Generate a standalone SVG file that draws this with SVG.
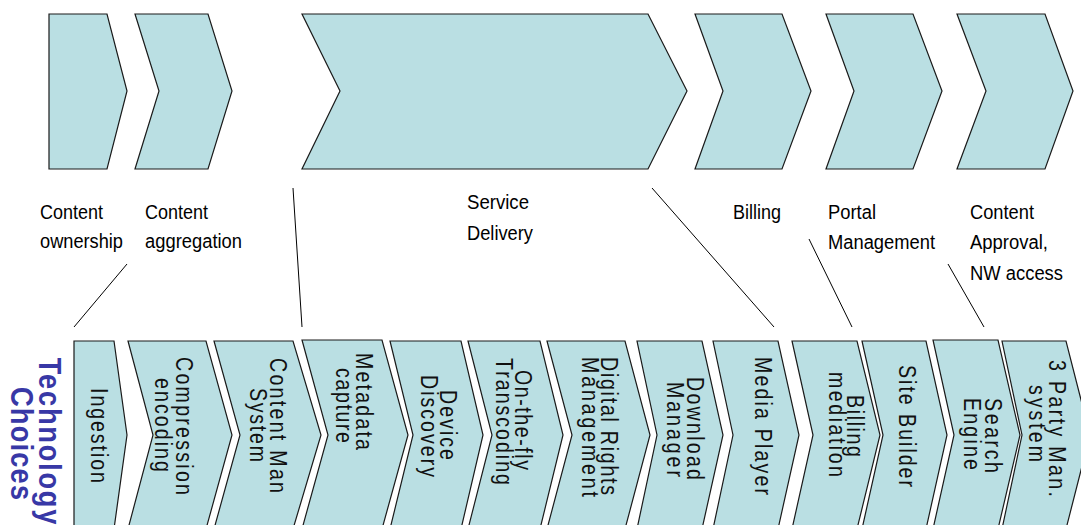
<svg xmlns="http://www.w3.org/2000/svg" width="1081" height="525" viewBox="0 0 1081 525">
<style>
.chev{fill:#badfe3;stroke:#1a1a1a;stroke-width:1.2;stroke-linejoin:miter}
.lbl{font-family:"Liberation Sans",Arial,sans-serif;font-size:20px;fill:#000}
.tech{font-family:"Liberation Sans",Arial,sans-serif;font-size:24.5px;fill:#111;text-anchor:middle}
.ttl{font-family:"Liberation Sans",Arial,sans-serif;font-size:32px;font-weight:bold;fill:#3838a6;text-anchor:middle}
.conn line{stroke:#000;stroke-width:1}
</style>
<rect width="1081" height="525" fill="#fff"/>

<!-- top value chain -->
<g id="stage-content-ownership">
<polygon class="chev" points="49,14 107,14 127,91 107,169 49,169"/>
<text class="lbl" x="40" y="219" textLength="63" lengthAdjust="spacingAndGlyphs">Content</text>
<text class="lbl" x="40" y="248" textLength="83" lengthAdjust="spacingAndGlyphs">ownership</text>
</g>
<g id="stage-content-aggregation">
<polygon class="chev" points="135,14 208,14 232,91 208,169 135,169 159,91"/>
<text class="lbl" x="145" y="219" textLength="63" lengthAdjust="spacingAndGlyphs">Content</text>
<text class="lbl" x="145" y="248" textLength="97" lengthAdjust="spacingAndGlyphs">aggregation</text>
</g>
<g id="stage-service-delivery">
<polygon class="chev" points="302,14 648,14 687,91 648,169 302,169 340,91"/>
<text class="lbl" x="467" y="209" textLength="62" lengthAdjust="spacingAndGlyphs">Service</text>
<text class="lbl" x="467" y="240" textLength="66" lengthAdjust="spacingAndGlyphs">Delivery</text>
</g>
<g id="stage-billing">
<polygon class="chev" points="695,14 782,14 811,91 782,169 695,169 723,91"/>
<text class="lbl" x="733" y="219" textLength="48" lengthAdjust="spacingAndGlyphs">Billing</text>
</g>
<g id="stage-portal-management">
<polygon class="chev" points="826,14 913,14 942,91 913,169 826,169 854,91"/>
<text class="lbl" x="828" y="219" textLength="48" lengthAdjust="spacingAndGlyphs">Portal</text>
<text class="lbl" x="828" y="249" textLength="107" lengthAdjust="spacingAndGlyphs">Management</text>
</g>
<g id="stage-content-approval">
<polygon class="chev" points="957,14 1045,14 1073,91 1045,169 957,169 986,91"/>
<text class="lbl" x="970" y="219" textLength="64" lengthAdjust="spacingAndGlyphs">Content</text>
<text class="lbl" x="970" y="249" textLength="78" lengthAdjust="spacingAndGlyphs">Approval,</text>
<text class="lbl" x="970" y="280" textLength="93" lengthAdjust="spacingAndGlyphs">NW access</text>
</g>

<!-- connectors -->
<g id="connectors" class="conn">
<line x1="74" y1="327" x2="127" y2="264"/>
<line x1="293" y1="188" x2="302" y2="327"/>
<line x1="652" y1="188" x2="774" y2="327"/>
<line x1="809" y1="239" x2="852" y2="327"/>
<line x1="948" y1="264" x2="984" y2="327"/>
</g>

<!-- title -->
<g id="technology-choices-title">
<text class="ttl" transform="translate(39,441) rotate(90) scale(0.85,1)" textLength="196" lengthAdjust="spacing">Technology</text>
<text class="ttl" transform="translate(11,443.5) rotate(90) scale(0.85,1)" textLength="133" lengthAdjust="spacing">Choices</text>
</g>

<!-- technology choices row -->
<g id="tc-ingestion">
<polygon class="chev" points="74,341 114,341 127,435 114,529 74,529"/>
<text class="tech" transform="translate(90.5,435.5) rotate(90) scale(0.8,1)" textLength="118.75" lengthAdjust="spacing">Ingestion</text>
</g>
<g id="tc-compression">
<polygon class="chev" points="128,341 206,341 232,435 206,529 128,529 153,435"/>
<text class="tech" transform="translate(175.5,426) rotate(90) scale(0.8,1)" textLength="172.5" lengthAdjust="spacing">Compression</text>
<text class="tech" transform="translate(154.5,425) rotate(90) scale(0.8,1)" textLength="117.5" lengthAdjust="spacing">encoding</text>
</g>
<g id="tc-cms">
<polygon class="chev" points="214,341 293,341 321,435 293,529 214,529 240,435"/>
<text class="tech" transform="translate(269.5,425.5) rotate(90) scale(0.8,1)" textLength="168.75" lengthAdjust="spacing">Content Man</text>
<text class="tech" transform="translate(249.5,425) rotate(90) scale(0.8,1)" textLength="92.5" lengthAdjust="spacing">System</text>
</g>
<g id="tc-metadata">
<polygon class="chev" points="302,340 382,340 408,435 382,529 302,529 328,435"/>
<text class="tech" transform="translate(355.5,401.5) rotate(90) scale(0.8,1)" textLength="121.25" lengthAdjust="spacing">Metadata</text>
<text class="tech" transform="translate(336,405.5) rotate(90) scale(0.8,1)" textLength="93.75" lengthAdjust="spacing">capture</text>
</g>
<g id="tc-device-discovery">
<polygon class="chev" points="390,341 461,341 483,435 461,529 390,529 413,435"/>
<text class="tech" transform="translate(439.5,425) rotate(90) scale(0.8,1)" textLength="87.5" lengthAdjust="spacing">Device</text>
<text class="tech" transform="translate(420.5,426) rotate(90) scale(0.8,1)" textLength="127.5" lengthAdjust="spacing">Discovery</text>
</g>
<g id="tc-transcoding">
<polygon class="chev" points="468,341 540,341 563,435 540,529 468,529 492,435"/>
<text class="tech" transform="translate(514.5,420) rotate(90) scale(0.8,1)" textLength="125" lengthAdjust="spacing">On-the-fly</text>
<text class="tech" transform="translate(495.5,421.5) rotate(90) scale(0.8,1)" textLength="158.75" lengthAdjust="spacing">Transcoding</text>
</g>
<g id="tc-drm">
<polygon class="chev" points="547,341 625,341 650,435 625,529 547,529 572,435"/>
<text class="tech" transform="translate(601,426) rotate(90) scale(0.8,1)" textLength="172.5" lengthAdjust="spacing">Digital Rights</text>
<text class="tech" transform="translate(581.5,427) rotate(90) scale(0.8,1)" textLength="175" lengthAdjust="spacing">Management</text>
</g>
<g id="tc-download-manager">
<polygon class="chev" points="637,341 702,341 723,435 702,529 637,529 657,435"/>
<text class="tech" transform="translate(687,428.5) rotate(90) scale(0.8,1)" textLength="128.75" lengthAdjust="spacing">Download</text>
<text class="tech" transform="translate(667,429.5) rotate(90) scale(0.8,1)" textLength="118.75" lengthAdjust="spacing">Manager</text>
</g>
<g id="tc-media-player">
<polygon class="chev" points="713,341 778,341 799,435 778,529 713,529 733,435"/>
<text class="tech" transform="translate(755,426) rotate(90) scale(0.8,1)" textLength="172.5" lengthAdjust="spacing">Media Player</text>
</g>
<g id="tc-billing-mediation">
<polygon class="chev" points="792,341 857,341 880,435 857,529 792,529 813,435"/>
<text class="tech" transform="translate(847,426) rotate(90) scale(0.8,1)" textLength="77.5" lengthAdjust="spacing">Billing</text>
<text class="tech" transform="translate(828.5,424.5) rotate(90) scale(0.8,1)" textLength="131.25" lengthAdjust="spacing">mediation</text>
</g>
<g id="tc-site-builder">
<polygon class="chev" points="862,341 926,341 947,435 926,529 862,529 883,435"/>
<text class="tech" transform="translate(899,426) rotate(90) scale(0.8,1)" textLength="152.5" lengthAdjust="spacing">Site Builder</text>
</g>
<g id="tc-search-engine">
<polygon class="chev" points="933,340 998,340 1020,435 998,529 933,529 954,435"/>
<text class="tech" transform="translate(985,435.5) rotate(90) scale(0.8,1)" textLength="93.75" lengthAdjust="spacing">Search</text>
<text class="tech" transform="translate(964,434) rotate(90) scale(0.8,1)" textLength="90" lengthAdjust="spacing">Engine</text>
</g>
<g id="tc-3party">
<polygon class="chev" points="1002,341 1066,341 1090,435 1066,529 1002,529 1022,435"/>
<text class="tech" transform="translate(1049,428.5) rotate(90) scale(0.8,1)" textLength="171.25" lengthAdjust="spacing">3 Party Man.</text>
<text class="tech" transform="translate(1029,423.5) rotate(90) scale(0.8,1)" textLength="96.25" lengthAdjust="spacing">system</text>
</g>
</svg>
